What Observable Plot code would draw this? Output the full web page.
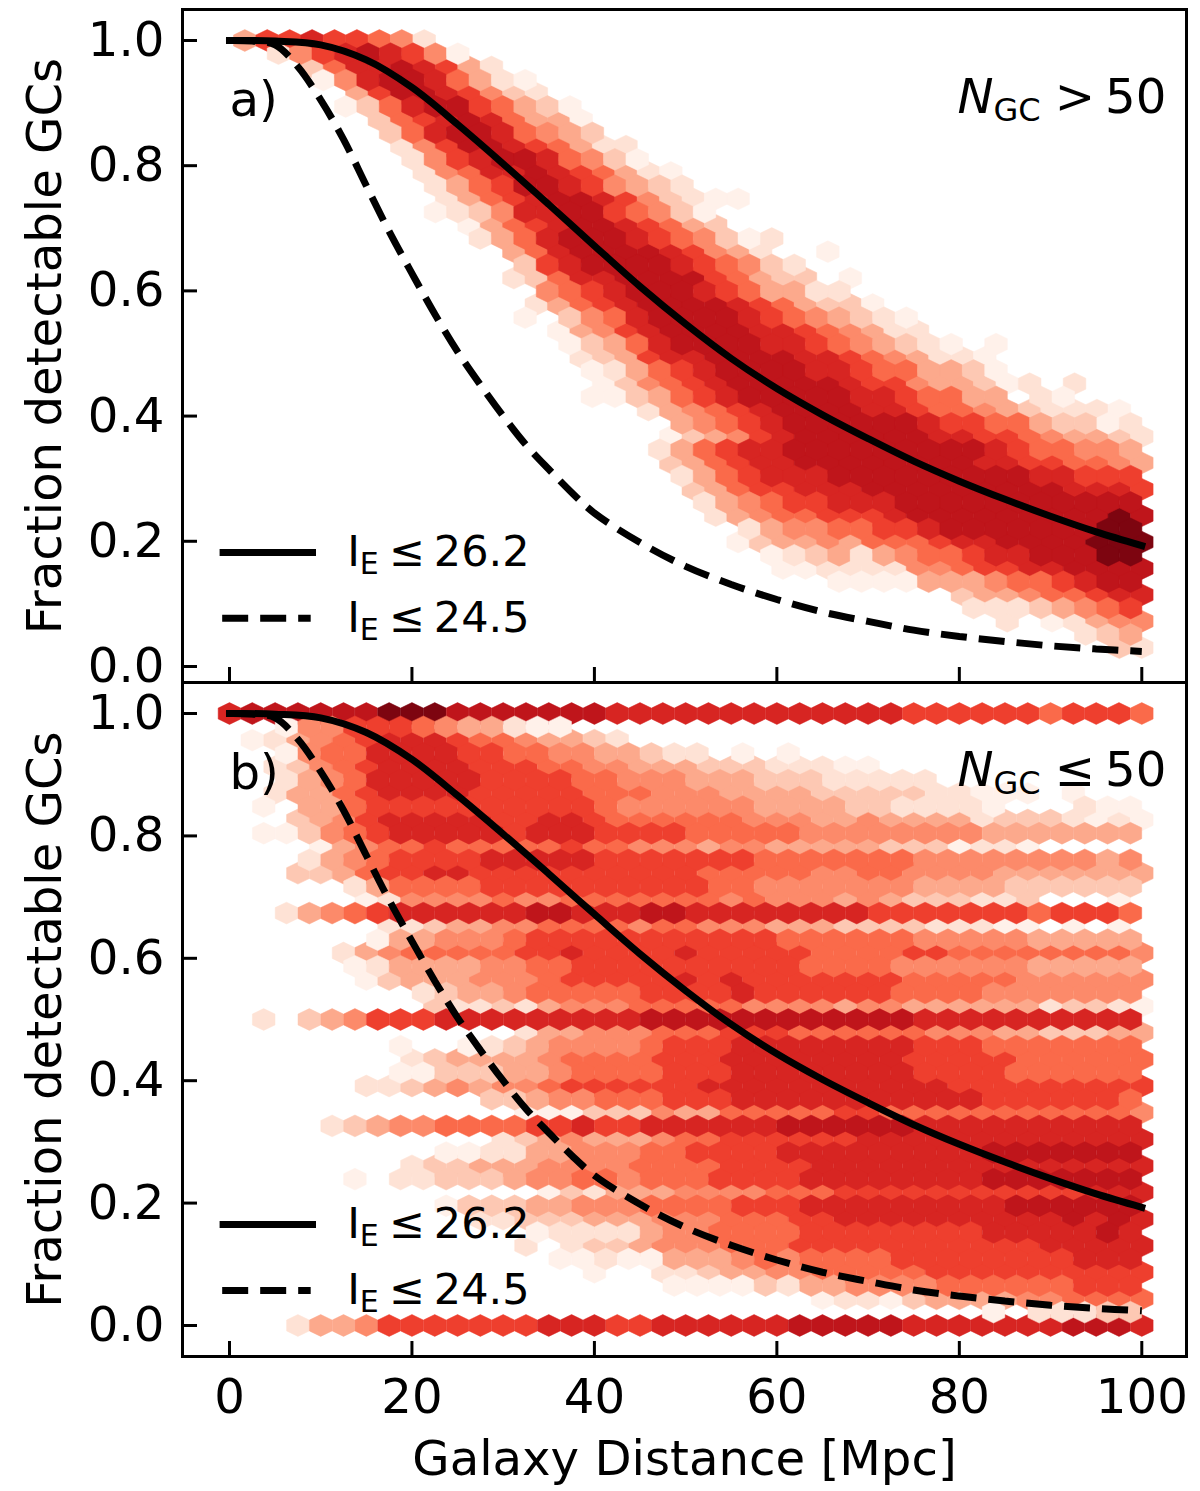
<!DOCTYPE html>
<html><head><meta charset="utf-8">
<script src="https://cdn.jsdelivr.net/npm/d3@7"></script>
<script src="https://cdn.jsdelivr.net/npm/@observablehq/plot@0.6"></script>
<style>
html,body{margin:0;padding:0;background:#fff}
#wrap{position:relative;width:1200px;height:1491px;overflow:hidden}
#wrap svg{position:absolute;left:0;overflow:visible;background:transparent}
</style></head><body><div id="wrap"></div>
<script>
// Hexbin cells. Each row: "firstColumn|levels" (0 palest .. 9 darkest, "." empty).
// Rows run from the top of the panel down; even rows sit on the first lattice, odd rows on the offset one.
const rowsA = [
"0|366766541","1|146787640","3|257787631","3|0478875310","5|368876421","4|02578865320",
"6|2567875330","6|2578875432","7|14688765311","7|14678875420","8|145778765310","8|135688764321",
"9|13567887642100","8|0124778865420","10|035678876532","10|13578887654201","12|357888876431..0",
"12|2678888765421","12|12577888865322.0","13|45678887653311","13|1356788887653220",
"12|0.2457888876543210","14|03467888877654311","14|023578888776543210.0","15|1236778888776543110",
"15|0135678888776553320","16|02456788888766433201.1","15|0023567888887765533.10",
"18|1345678888776554321110","19|345678888887665532201","19|0234678888887766543321",
"18|135677"+"888888888"+"7655443","19|235677"+"88888888"+"77665543","19|1356777"+"8"+"88888888"+"77666",
"20|23566777"+"888888888"+"7776","20|13456677788888888888","21|134556667"+"888888888"+"98",
"22|134455667"+"8888888"+"99","22|0233435556778888999","23|01231345567788899","24|00111144566778888",
"26|00003334556788","32|233455677","32|11123456","34|1.01344","37|123","39|21"];
const rowsB = [
"0|7888888999888"+"888877777777777"+"7766666656665","2|0446665433100","1|01345677765543321",
"2|0455777766554433211.0.0","2|124567777666554433322211100","2|13457777766665544433322211111",
"2|1335677776666655544433332222211000.0","1|0.3356666666666544444433332211110...100",
"3|23467777766776555555444334333312221010",
"1|002456"+"77777"+"6"+"777"+"6666"+"55555"+"44444444"+"3333333","4|03455655555655444344333332220110",
"3|1345666677777"+"6666666"+"5555555"+"44444444"+"34","3|2235667766"+"66666666"+"55555"+"44"+"55"+"4444"+"3333333",
"5|135555"+"6666666666"+"55"+"4444444"+"3333"+"222222","6|014444544"+"5555555"+"45"+"444"+"34"+"3"+"222"+"11"+"2"+"...0",
"2|13456"+"777777"+"88"+"777"+"88"+"77777777"+"6666666"+"5"+"666"+"5","7|11233445555455444333222211100.0.0",
"6|0334445"+"66666666666"+"555555"+"44444"+"33333","5|134555556"+"67"+"6666"+"7"+"66666"+"55"+"55"+"66"+"55555555"+"4",
"5|0133334455"+"6666666666"+"5555"+"444444"+"33333","6|0233344"+"45666667676666666"+"55555"+"444444",
"8|12334"+"55555"+"6666"+"7"+"666666"+"5555"+"4444444","9|21121"+"344"+"4"+"55555"+"4444"+"3"+"44"+"333333"+"12210",
"1|1.234666"+"7777"+"77777"+"888888888888"+"7777777777","13|1334445556665555554443322233",
"7|0..012344445666"+"77777777"+"666"+"5555555","8|1233334"+"5555"+"666"+"77777777"+"66666"+"555555",
"7|0022233"+"4"+"5555"+"666"+"77777777"+"6666"+"555555","6|11234344"+"5"+"666666"+"77777777777"+"666666666",
"11|22344555666"+"77777777777"+"666666"+"5","13|000222433"+"55555"+"66"+"55555555555"+"4",
"4|123445555"+"667667777"+"77"+"888888"+"7777777777","12|12343334"+"55"+"666666"+"7777777777777",
"9|00113344455"+"6666"+"777777777"+"8888888","8|122333"+"4444"+"5555"+"6666"+"777777777777777",
"5|0.112223445545556666"+"77777777"+"888888"+"8","14|0213334444555"+"66666666666"+"777",
"9|0222"+"33"+"444"+"5555"+"666"+"777777777"+"888888","11|11222"+"333"+"444"+"555"+"66"+"7777777777"+"8787",
"13|011113445555"+"66666666"+"77777"+"87","13|1.1223444555"+"66666666666"+"77777",
"14|001003334"+"54"+"5555"+"66666666"+"777","16|0..112334455555"+"6666666666",
"19|000021334444"+"555555"+"666","26|011023333445555","33|0.11122",
"3|1334"+"6666666"+"777"+"66"+"777777"+"88888"+"7777777"+"888"+"7"];

const latticeA = {x0: 1.68, dx: 2.458, dy: 0.97 / 46};
const latticeB = {x0: 0, dx: 2.5, dy: 1 / 46};
const levels = [0,1,2,3,4,5,6,7,8,9];
const levelColors = ["#fff1ea","#fee2d5","#fdc8b3","#fca98c","#fc8a6a","#fa6a4a","#ee3f2e","#d72522","#bf151b","#7d0510"];

const solidX = [0,5,10,15,20,25,30,35,40,45,50,55,60,65,70,75,80,85,90,95,100];
const solidY = [1,.999,.993,.969,.925,.866,.803,.738,.672,.607,.547,.492,.444,.402,.364,.328,.296,.267,.24,.215,.193];
const dashX = [0,2.5,5,7.5,10,12.5,15,17.5,20,22.5,25,27.5,30,32.5,35,37.5,40,45,50,55,60,65,70,75,80,85,90,95,100];
const dashY = [1,.999,.993,.958,.905,.842,.768,.695,.628,.563,.503,.45,.4,.354,.315,.278,.245,.198,.16,.131,.107,.087,.072,.058,.048,.04,.033,.028,.024];
const xTicks = [0,20,40,60,80,100];
const yTicks = [0,.2,.4,.6,.8,1];
const FONT = 48.2, LEG = 43, LW = 7, DASH = "26,12";

function cells(rows, g) {
  const out = [];
  for (const parity of [0, 1]) rows.forEach((r, k) => {
    if (k % 2 !== parity) return;
    const [s, lv] = r.split("|");
    [...lv].forEach((c, j) => {
      if (c === ".") return;
      out.push({x: g.x0 + (parity ? g.dx / 2 : 0) + (+s + j) * g.dx, y: 1 - k * g.dy, level: +c});
    });
  });
  return out;
}
// flattened hexagon: half width = r, half height a little less
const hex = {draw(ctx, size) {
  const rx = Math.sqrt(size / Math.PI), ry = rx * 0.965, h = ry / 2;
  ctx.moveTo(0, -ry); ctx.lineTo(rx, -h); ctx.lineTo(rx, h); ctx.lineTo(0, ry); ctx.lineTo(-rx, h); ctx.lineTo(-rx, -h); ctx.closePath();
}};
const pts = (X, Y) => X.map((x, i) => ({x, y: Y[i]}));

function rich(svg) {
  d3.select(svg).selectAll("text").each(function () {
    const t = this.textContent;
    const m = t.match(/^I_E (\S+) (.*)$/), n = t.match(/^N_GC (\S+) (.*)$/);
    if (m) this.innerHTML = `I<tspan dy="8" font-size="30">E</tspan><tspan dy="-8" dx="10">${m[1]}</tspan><tspan dx="9">${m[2]}</tspan>`;
    if (n) this.innerHTML = `<tspan font-style="italic">N</tspan><tspan dy="8" font-size="32">GC</tspan><tspan dy="-8" dx="14">${n[1]}</tspan><tspan dx="10">${n[2]}</tspan>`;
  });
  return svg;
}

function panel(o) {
  const marks = [
    Plot.dot(cells(o.rows, o.lattice), {x: "x", y: "y", fill: "level", stroke: "level", strokeWidth: 0.5, r: 11.3, symbol: hex}),
    Plot.line(pts(solidX, solidY), {x: "x", y: "y", stroke: "black", strokeWidth: LW, curve: "catmull-rom", strokeLinecap: "square"}),
    Plot.line(pts(dashX, dashY), {x: "x", y: "y", stroke: "black", strokeWidth: LW, curve: "catmull-rom", strokeLinecap: "butt", strokeLinejoin: "miter", strokeDasharray: DASH}),
    Plot.line(pts([-0.7, 9.1], [o.leg[0], o.leg[0]]), {x: "x", y: "y", stroke: "black", strokeWidth: LW, strokeLinecap: "square"}),
    Plot.line(pts([-0.8, 8.9], [o.leg[1], o.leg[1]]), {x: "x", y: "y", stroke: "black", strokeWidth: LW, strokeLinecap: "butt", strokeDasharray: DASH}),
    Plot.text([o.tag], {x: [0], y: [o.tagY], textAnchor: "start", fontSize: FONT, fill: "black"}),
    Plot.text([o.ngc], {x: [102.7], y: [o.tagY + 0.005], textAnchor: "end", fontSize: FONT, fill: "black"}),
    Plot.text(["I_E \u2264 26.2", "I_E \u2264 24.5"], {x: [12.9, 12.9], y: o.leg, textAnchor: "start", fontSize: LEG, fill: "black"}),
    Plot.axisY(yTicks, {anchor: "left", tickSize: -15, tickPadding: 33, strokeWidth: 3, tickFormat: d3.format(".1f"), fontSize: FONT, label: "Fraction detectable GCs", labelAnchor: "center", labelArrow: "none", labelOffset: 156, fill: "black"}),
    Plot.axisX(xTicks, o.xOpts),
    Plot.frame({stroke: "black", strokeWidth: 3})
  ];
  const svg = Plot.plot({
    width: 1200, height: o.height,
    marginLeft: 182, marginRight: 14, marginTop: o.mt, marginBottom: o.mb,
    x: {domain: [-5.15, 104.9]},
    y: {domain: o.yDomain},
    color: {type: "ordinal", domain: levels, range: levelColors},
    style: {fontFamily: "'DejaVu Sans'", color: "black", background: "transparent", overflow: "visible"},
    marks
  });
  svg.style.top = o.top + "px";
  return rich(svg);
}

const wrap = document.getElementById("wrap");
wrap.append(panel({
  rows: rowsA, lattice: latticeA, top: 0, height: 684, mt: 9, mb: 2, yDomain: [-0.0256, 1.0495],
  tag: "a)", tagY: .904, ngc: "N_GC > 50", leg: [.182, .077],
  xOpts: {anchor: "bottom", tickSize: -15, strokeWidth: 3, tickFormat: () => "", label: null}
}));
wrap.append(panel({
  rows: rowsB, lattice: latticeB, top: 680, height: 811, mt: 2, mb: 135, yDomain: [-0.0507, 1.0507],
  tag: "b)", tagY: .902, ngc: "N_GC \u2264 50", leg: [.165, .057],
  xOpts: {anchor: "bottom", tickSize: -15, tickPadding: 37, strokeWidth: 3, fontSize: FONT, tickFormat: d3.format("d"), label: "Galaxy Distance [Mpc]", labelAnchor: "center", labelArrow: "none", labelOffset: 118, fill: "black"}
}));
</script></body></html>
